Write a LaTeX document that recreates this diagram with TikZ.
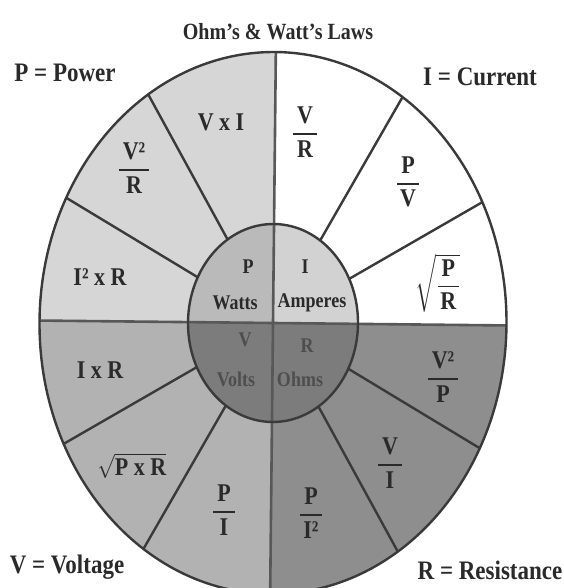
\documentclass[tikz,border=0pt]{standalone}
\usepackage{fontspec}
\setmainfont{Liberation Serif}
\usepackage{amsmath}
\newcommand{\fr}[2]{$\genfrac{}{}{1.6pt}{0}{\mbox{\hspace{4pt}#1\hspace{4pt}}}{\mbox{#2}}$}
\definecolor{oTL}{HTML}{D6D6D6}
\definecolor{oTR}{HTML}{FFFFFF}
\definecolor{oBL}{HTML}{B2B2B2}
\definecolor{oBR}{HTML}{8E8E8E}
\definecolor{iTL}{HTML}{BABABA}
\definecolor{iTR}{HTML}{D2D2D2}
\definecolor{iB}{HTML}{7C7C7C}
\definecolor{lineC}{HTML}{3A3A3A}
\definecolor{ink}{HTML}{2A2A2A}
\definecolor{faint}{HTML}{4E4E4E}
\begin{document}
\begin{tikzpicture}[x=1pt,y=-1pt,
  seg/.style={font=\fontsize{22}{26}\selectfont\bfseries, text=ink, inner sep=0pt, yscale=1.16},
  outerlab/.style={font=\fontsize{23}{27}\selectfont\bfseries, text=ink, inner sep=0pt, yscale=1.16},
  inlab/.style={font=\fontsize{18}{22}\selectfont\bfseries, text=ink, inner sep=0pt, yscale=1.16},
  titlelab/.style={font=\fontsize{20}{24}\selectfont\bfseries, text=ink, inner sep=0pt, yscale=1.16},
  wline/.style={draw=lineC, line width=2.4pt},
  axisline/.style={draw=lineC!85, line width=2.6pt}]
\useasboundingbox (0,0) rectangle (563,588);
\clip (0,0) rectangle (563,588);
\fill[white] (0,0) rectangle (563,588);
\begin{scope}[rotate around={-0.6:(273,323)}]
  % outer quadrants
  \fill[oTR] (273,323) -- (506.5,323) arc[start angle=0,end angle=90,x radius=233.5pt,y radius=271pt] -- cycle;
  \fill[oTL] (273,323) -- (273,52) arc[start angle=90,end angle=180,x radius=233.5pt,y radius=271pt] -- cycle;
  \fill[oBL] (273,323) -- (39.5,323) arc[start angle=180,end angle=270,x radius=233.5pt,y radius=271pt] -- cycle;
  \fill[oBR] (273,323) -- (273,594) arc[start angle=270,end angle=360,x radius=233.5pt,y radius=271pt] -- cycle;
  % radial dividers
  \foreach \a in {27,57,123,153,207,237,303,333}
    \draw[wline] ({273+85*cos(\a)},{323-99*sin(\a)}) -- ({273+233.5*cos(\a)},{323-271*sin(\a)});
  \draw[axisline] (273,52) -- (273,594);
  \draw[axisline] (39.5,323) -- (506.5,323);
  % inner quadrants
  \fill[iTR] (273,323) -- (358,323) arc[start angle=0,end angle=90,x radius=85pt,y radius=99pt] -- cycle;
  \fill[iTL] (273,323) -- (273,224) arc[start angle=90,end angle=180,x radius=85pt,y radius=99pt] -- cycle;
  \fill[iB] (273,323) -- (188,323) arc[start angle=180,end angle=360,x radius=85pt,y radius=99pt] -- cycle;
  \draw[axisline] (273,224) -- (273,422);
  \draw[axisline] (188,323) -- (358,323);
  \draw[wline] (273,323) ellipse [x radius=85pt, y radius=99pt];
  \draw[wline] (273,323) ellipse [x radius=233.5pt, y radius=271pt];
\end{scope}
% outside labels
\node[titlelab] (title) at (278,32) {Ohm's \& Watt's Laws};
\node[outerlab] (pow) at (65,73) {P = Power};
\node[outerlab] (cur) at (480,77) {I = Current};
\node[outerlab] (vol) at (67,567) {V = Voltage};
\node[outerlab] (res) at (490,570) {R = Resistance};
% power quadrant
\node[seg] (vxi) at (221,122) {V x I};
\node[seg] (vvr) at (134,168) {\fr{V²}{R}};
\node[seg] (iir) at (100,277) {I² x R};
% current quadrant
\node[seg] (vr) at (305,132) {\fr{V}{R}};
\node[seg] (pv) at (408,182) {\fr{P}{V}};
\node[seg] (spr) at (438,283) {$\sqrt{\genfrac{}{}{1.6pt}{0}{\mbox{\hspace{4pt}P\hspace{4pt}}}{\mbox{R}}}$};
% resistance quadrant
\node[seg] (vvp) at (443,377) {\fr{V²}{P}};
\node[seg] (vi) at (390,463) {\fr{V}{I}};
\node[seg] (pii) at (311,513) {\fr{P}{I²}};
% voltage quadrant
\node[seg] (pi) at (224,510) {\fr{P}{I}};
\node[seg] (spxr) at (132,466) {$\sqrt{\mbox{P x R}}$};
\node[seg] (ixr) at (100,370) {I x R};
% centre
\node[inlab] (cP) at (248,267) {P};
\node[inlab] (cW) at (235,303) {Watts};
\node[inlab] (cI) at (305,267) {I};
\node[inlab] (cA) at (312,303) {Amperes};
\node[inlab, text=faint] (cV) at (245,340) {V};
\node[inlab, text=faint] (cVo) at (236,379) {Volts};
\node[inlab, text=faint] (cR) at (307,346) {R};
\node[inlab, text=faint] (cO) at (300,379) {Ohms};
\end{tikzpicture}
\end{document}
